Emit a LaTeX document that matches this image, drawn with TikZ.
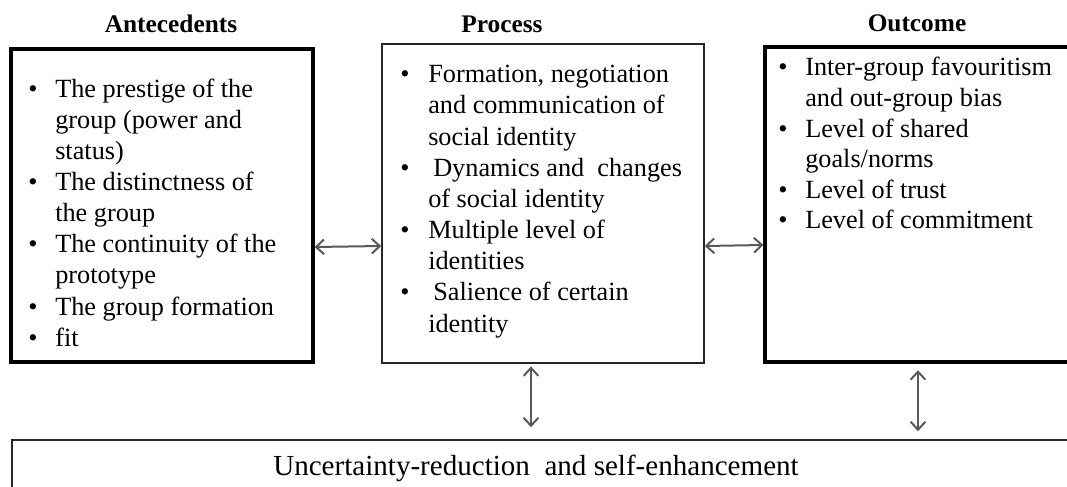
\documentclass[tikz,border=0pt]{standalone}
\usepackage{fontspec}
\setmainfont{Liberation Serif}
\usetikzlibrary{arrows.meta}
\begin{document}
\begin{tikzpicture}[x=0.75pt,y=-0.75pt,
  thickbox/.style={draw=black, line width=2.3pt, inner sep=0pt},
  thinbox/.style={draw=black!85, line width=1.1pt, inner sep=0pt},
  heading/.style={font=\fontsize{19}{23}\selectfont\bfseries, anchor=base, inner sep=0pt},
  itemline/.style={font=\fontsize{19.7}{23}\selectfont, anchor=base west, inner sep=0pt},
  itemdot/.style={font=\fontsize{19.7}{23}\selectfont, anchor=base, inner sep=0pt},
  basetext/.style={font=\fontsize{21.8}{26}\selectfont, anchor=base, inner sep=0pt},
  link/.style={draw=black!65, line width=1.5pt,
    {Straight Barb[length=6pt,width=11pt]}-{Straight Barb[length=6pt,width=11pt]}}
]
\clip (0,0) rectangle (1067,486);

% headings
\node[heading] (hAnte) at (171,32) {Antecedents};
\node[heading] (hProc) at (502,32) {Process};
\node[heading] (hOutc) at (917,31) {Outcome};

% the four boxes
\node[thickbox, minimum width=226.5pt, minimum height=234.75pt] (ante) at (162,205.5) {};
\node[thinbox, minimum width=241.5pt, minimum height=239.25pt] (proc) at (543,203.5) {};
\node[thickbox, minimum width=255pt, minimum height=236.25pt] (outc) at (935,204.5) {};
\node[thinbox, minimum width=840pt, minimum height=60pt] (base) at (572,480) {};

% antecedents
\node[itemdot] (a1d) at (33,97) {\textbullet};
\node[itemline] (a1a) at (55,97) {The prestige of the};
\node[itemline] (a1b) at (55,128) {group (power and};
\node[itemline] (a1c) at (55,159) {status)};
\node[itemdot] (a2d) at (33,190) {\textbullet};
\node[itemline] (a2a) at (55,190) {The distinctness of};
\node[itemline] (a2b) at (55,221) {the group};
\node[itemdot] (a3d) at (33,252) {\textbullet};
\node[itemline] (a3a) at (55,252) {The continuity of the};
\node[itemline] (a3b) at (55,283) {prototype};
\node[itemdot] (a4d) at (33,315) {\textbullet};
\node[itemline] (a4a) at (55,315) {The group formation};
\node[itemdot] (a5d) at (33,346) {\textbullet};
\node[itemline] (a5a) at (55,346) {fit};

% process
\node[itemdot] (p1d) at (405,82) {\textbullet};
\node[itemline] (p1a) at (428,82) {Formation, negotiation};
\node[itemline] (p1b) at (428,113) {and communication of};
\node[itemline] (p1c) at (428,145) {social identity};
\node[itemdot] (p2d) at (405,176) {\textbullet};
\node[itemline] (p2a) at (433,176) {Dynamics and\ \ changes};
\node[itemline] (p2b) at (428,207) {of social identity};
\node[itemdot] (p3d) at (405,238) {\textbullet};
\node[itemline] (p3a) at (428,238) {Multiple level of};
\node[itemline] (p3b) at (428,269) {identities};
\node[itemdot] (p4d) at (405,300) {\textbullet};
\node[itemline] (p4a) at (433,300) {Salience of certain};
\node[itemline] (p4b) at (428,332) {identity};

% outcome
\node[itemdot] (o1d) at (783,75) {\textbullet};
\node[itemline] (o1a) at (805,75) {Inter-group favouritism};
\node[itemline] (o1b) at (805,106) {and out-group bias};
\node[itemdot] (o2d) at (783,137) {\textbullet};
\node[itemline] (o2a) at (805,137) {Level of shared};
\node[itemline] (o2b) at (805,167) {goals/norms};
\node[itemdot] (o3d) at (783,198) {\textbullet};
\node[itemline] (o3a) at (805,198) {Level of trust};
\node[itemdot] (o4d) at (783,228) {\textbullet};
\node[itemline] (o4a) at (805,228) {Level of commitment};

% bottom label
\node[basetext] (btext) at (536,475) {Uncertainty-reduction\ \ and self-enhancement};

% connectors
\draw[link] (ante.east |- 0,247) -- (proc.west |- 0,246);
\draw[link] (proc.east |- 0,246) -- (outc.west |- 0,245);
\draw[link, shorten <=2pt, shorten >=9pt] (proc.south -| 531,0) -- (base.north -| 531,0);
\draw[link, shorten <=5pt, shorten >=6pt] (outc.south -| 918,0) -- (base.north -| 918,0);
\end{tikzpicture}
\end{document}
